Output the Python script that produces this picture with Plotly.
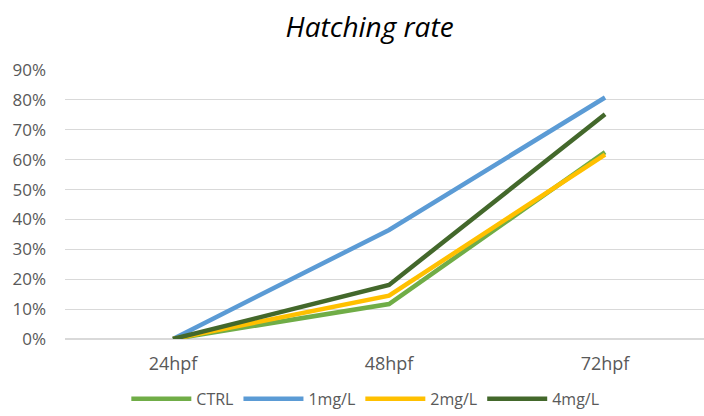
import plotly.graph_objects as go

categories = ["24hpf", "48hpf", "72hpf"]
series_names = ["CTRL", "1mg/L", "2mg/L", "4mg/L"]
ctrl = [0.0, 0.117, 0.625]
mg1 = [0.0, 0.365, 0.808]
mg2 = [0.0, 0.145, 0.617]
mg4 = [0.0, 0.181, 0.752]
colors = ["#70AD47", "#5B9BD5", "#FFC000", "#43682B"]

fig = go.Figure()
for name, vals, col in zip(series_names, [ctrl, mg1, mg2, mg4], colors):
    fig.add_trace(go.Scatter(x=list(range(len(categories))), y=vals, name=name,
                             mode="lines", line=dict(color=col, width=4.5)))

fig.update_layout(
    width=704, height=416,
    margin=dict(l=65, r=0, t=70, b=77),
    paper_bgcolor="white", plot_bgcolor="white",
    title=dict(text="<i>Hatching rate</i>", x=0.525, xanchor="center", y=0.935, yanchor="middle",
               font=dict(family="Open Sans, Liberation Sans", size=28, color="#000000")),
    font=dict(family="Open Sans, Liberation Sans", size=16, color="#595959"),
    xaxis=dict(tickmode="array", tickvals=list(range(len(categories))), ticktext=categories,
               range=[-0.5, 2.458], showgrid=False, zeroline=False, showline=False,
               ticks="", ticklabelstandoff=12, tickfont=dict(size=18, color="#595959")),
    yaxis=dict(range=[0, 0.9], dtick=0.1, tickformat=".0%", showgrid=True,
               gridcolor="#D9D9D9", gridwidth=1, zeroline=True, zerolinecolor="#D9D9D9",
               showline=False, ticks="", ticklabelstandoff=18,
               tickfont=dict(size=17, color="#595959")),
    legend=dict(orientation="h", x=0.47, xanchor="center", y=-0.286, yanchor="bottom",
                font=dict(size=16, color="#595959"), itemwidth=60, traceorder="normal"),
    showlegend=True,
)

fig.write_html("out.html")
